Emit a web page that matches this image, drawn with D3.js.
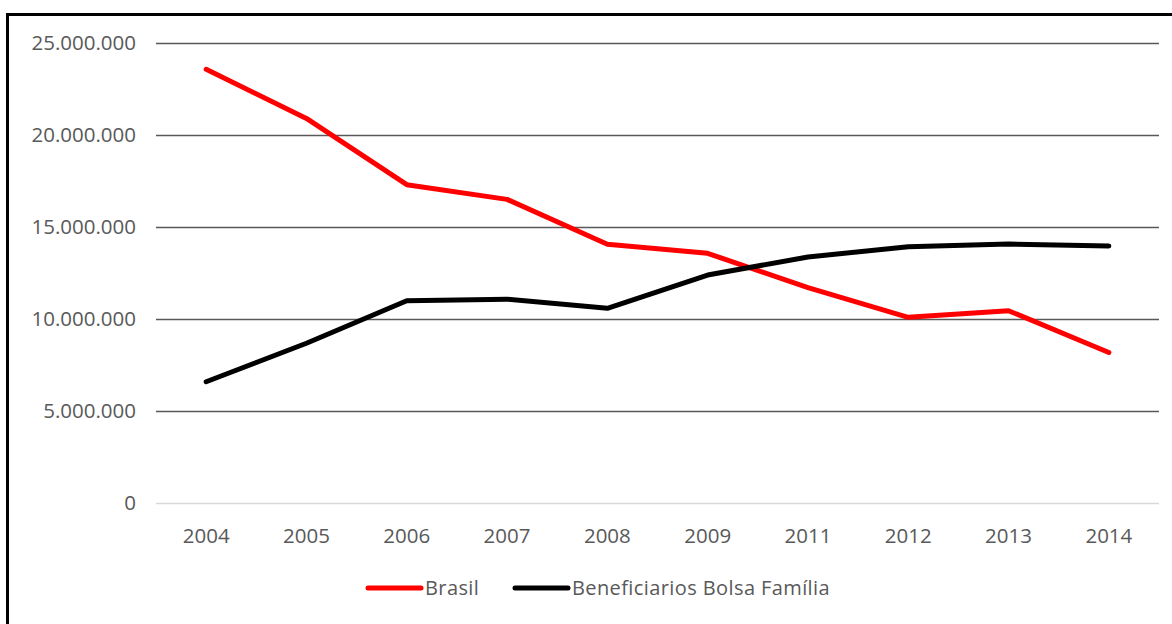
<!DOCTYPE html>
<html>
<head>
<meta charset="utf-8">
<script src="https://cdn.jsdelivr.net/npm/d3@7"></script>
<style>
  body { margin: 0; background: #fff; }
  text { font-family: "Open Sans", sans-serif; fill: #595959; }
</style>
</head>
<body>
<div id="chart"></div>
<script>
// categories (years) and series values
var years = ["2004", "2005", "2006", "2007", "2008", "2009", "2011", "2012", "2013", "2014"];
var brasil = [23570000, 20900000, 17300000, 16500000, 14060000, 13570000, 11700000, 10090000, 10450000, 8180000];
var bolsa = [6590000, 8680000, 10990000, 11080000, 10580000, 12390000, 13370000, 13930000, 14070000, 13970000];
var yTicks = [0, 5000000, 10000000, 15000000, 20000000, 25000000];
var seriesNames = ["Brasil", "Beneficiarios Bolsa Família"];
var seriesColors = ["#ff0000", "#000000"];

var W = 1172, H = 624;
var margin = {top: 43, right: 13, bottom: 121, left: 156};
var width = W - margin.left - margin.right,
    height = H - margin.top - margin.bottom;

var svg = d3.select("#chart").append("svg")
  .attr("width", W)
  .attr("height", H);

// outer frame (right/bottom edges fall outside the window)
svg.append("rect")
  .attr("x", 7.5).attr("y", 14.5)
  .attr("width", W + 10).attr("height", H + 10)
  .attr("fill", "none")
  .attr("stroke", "#000")
  .attr("stroke-width", 3);

var g = svg.append("g")
  .attr("transform", "translate(" + margin.left + "," + margin.top + ")");

var x = d3.scaleBand().domain(years).range([0, width]);
var y = d3.scaleLinear().domain([0, 25000000]).range([height, 0]);

var fmt = function(v) { return d3.format(",")(v).replace(/,/g, "."); };

// gridlines + y labels
var yAxis = g.append("g")
  .call(d3.axisLeft(y).tickValues(yTicks).tickSize(-width).tickPadding(20).tickFormat(fmt));
yAxis.select(".domain").remove();
yAxis.selectAll(".tick line")
  .attr("stroke", function(d) { return d === 0 ? "#d9d9d9" : "#595959"; })
  .attr("stroke-width", 1.5);
yAxis.selectAll(".tick text")
  .style("font-size", "20.5px")
  .style("font-family", "'Open Sans', sans-serif")
  .attr("fill", "#595959");

// x labels
var xAxis = g.append("g")
  .attr("transform", "translate(0," + height + ")")
  .call(d3.axisBottom(x).tickSize(0).tickPadding(25));
xAxis.select(".domain").remove();
xAxis.selectAll(".tick text")
  .style("font-size", "20.5px")
  .style("font-family", "'Open Sans', sans-serif")
  .attr("fill", "#595959");

// lines
var line = d3.line()
  .x(function(d, i) { return x(years[i]) + x.bandwidth() / 2; })
  .y(function(d) { return y(d); });

[brasil, bolsa].forEach(function(s, i) {
  g.append("path")
    .datum(s)
    .attr("fill", "none")
    .attr("stroke", seriesColors[i])
    .attr("stroke-width", 5)
    .attr("stroke-linejoin", "round")
    .attr("stroke-linecap", "round")
    .attr("d", line);
});

// legend
var legendX = [368, 515];
var legend = svg.append("g").attr("transform", "translate(0,588)");
seriesNames.forEach(function(name, i) {
  legend.append("line")
    .attr("x1", legendX[i]).attr("x2", legendX[i] + 53)
    .attr("y1", 0).attr("y2", 0)
    .attr("stroke", seriesColors[i])
    .attr("stroke-width", 5)
    .attr("stroke-linecap", "round");
  legend.append("text")
    .attr("x", legendX[i] + 57)
    .attr("y", 7)
    .style("font-size", "20px")
    .style("letter-spacing", "0.4px")
    .text(name);
});
</script>
</body>
</html>
